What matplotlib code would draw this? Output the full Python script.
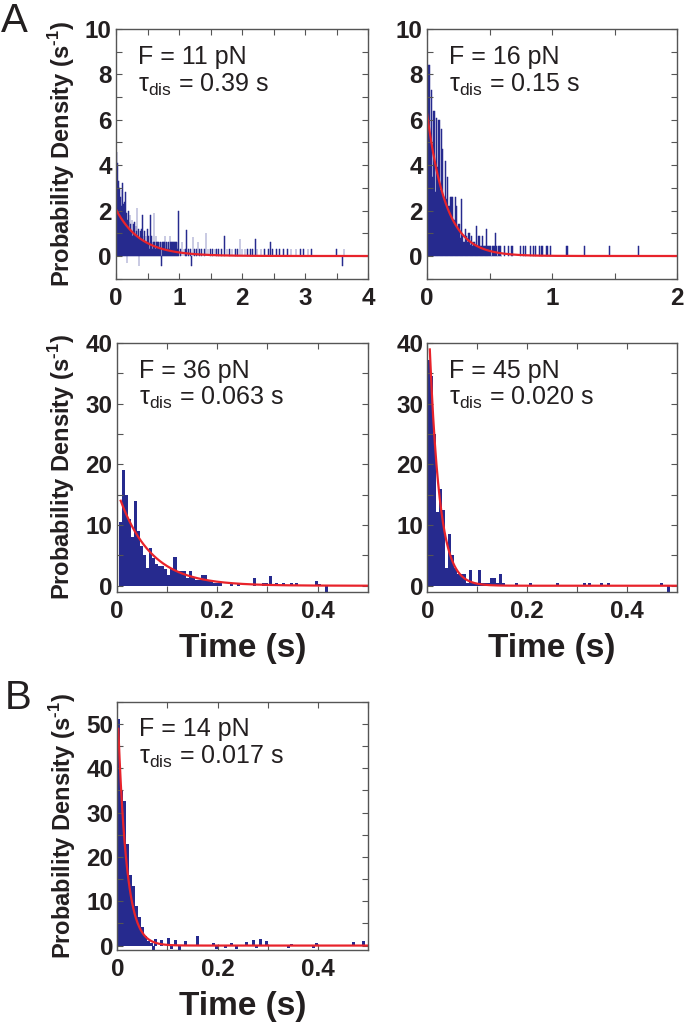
import numpy as np
import matplotlib
matplotlib.use("Agg")
import matplotlib.pyplot as plt
from matplotlib.ticker import MultipleLocator, FixedLocator, FixedFormatter

plt.rcParams['font.family'] = ['Liberation Sans', 'DejaVu Sans']
plt.rcParams['mathtext.fontset'] = 'custom'
plt.rcParams['mathtext.rm'] = 'Liberation Sans'

# ---------------- data ----------------
forces = ["11", "16", "36", "45", "14"]
tau_labels = ["0.39", "0.15", "0.063", "0.020", "0.017"]
tau_vals = [0.39, 0.15, 0.063, 0.020, 0.017]
fit_amp = [2.05, 6.3, 15.9, 50.0, 55.0]
fit_start = [0.0, 0.0, 0.008, 0.005, 0.002]

# panel A1 (F = 11 pN): bin width 0.01 s, contiguous bins from t = 0
p1_bw = 0.01
p1_t0 = 0.0
p1_dense = [3.5, 4.6, 4.1, 3.3, 2.7, 3.0, 2.2, 2.6, 2.2, 2.9,
            3.2, 2.3, 1.8, 2.4, 1.5, 2.8, 1.9, -0.3, 1.6, 2.0,
            1.5, 1.2, 1.8, 1.4, 1.1, 1.6, 0.9, 1.4, 1.2, 1.5,
            0.9, 1.3, 1.1, 2.1, 0.9, 1.2, -0.45, 0.8, 1.1, 0.6,
            1.2, 0.9, 1.8, 0.6, 0.9, 1.1, 0.6, 0.9, 0.6, 1.2,
            0.6, 0.9, 0.6, 0.3, 1.8, 0.6, 0.9, 0.3, 0.6, 0.6,
            1.9, 0.6, 0.3, 0.9, 0.6, 0.6, 0.3, 0.6, 0.6, 0.3,
            0.6, 0.6, -0.45, 0.6, 0.3, 0.6, 0.6, 0.9, 0.3, 0.6,
            0.6, 0.3, 0.6, 0.6, 0.3, 0.9, 0.6, 0.3, 0.6, 0.6,
            0.3, 0.6, 0.6, 0.3, 0.6, 0.3, 0.6, 0.3, 0.6, 2.0]
p1_sparse_t = [1.02, 1.05, 1.08, 1.10, 1.12, 1.15, 1.18, 1.20, 1.22, 1.25,
               1.28, 1.30, 1.33, 1.36, 1.40, 1.43, 1.46, 1.50, 1.53, 1.57,
               1.60, 1.63, 1.67, 1.72, 1.76, 1.80, 1.84, 1.90, 1.93, 1.97,
               2.00, 2.05, 2.09, 2.13, 2.17, 2.21, 2.24, 2.30, 2.36, 2.42,
               2.45, 2.48, 2.55, 2.60, 2.66, 2.72, 2.78, 2.86, 2.93, 2.98,
               3.05, 3.10, 3.50, 3.60, 3.62]
p1_sparse_h = [0.3, 0.6, 0.3, 0.3, 1.15, 0.3, 0.3, -0.45, 0.85, 0.3,
               0.3, 0.6, 0.3, 0.3, 0.3, 1.0, 0.3, 0.3, 0.3, 0.3,
               0.3, 0.3, 0.3, 0.9, 0.3, 0.3, 0.3, 0.3, 0.3, 0.75,
               0.3, 0.3, 0.3, 0.3, 0.3, 0.75, 0.3, 0.3, 0.3, 0.3,
               0.6, 0.3, 0.3, 0.3, 0.3, 0.3, 0.3, 0.3, 0.3, 0.3,
               0.3, 0.3, 0.3, -0.45, 0.3]

# panel A2 (F = 16 pN)
p2_bw = 0.01
p2_t0 = 0.0
p2_dense = [3.0, 8.4, 5.0, 7.3, 3.5, 6.4, 2.8, 6.1, 3.9, 6.0,
            2.9, 5.6, 4.7, 2.6, 4.2, 2.5, 3.5, 2.2, 2.6, 2.6,
            2.6, 1.6, 2.6, 2.2, 1.2, 1.4, 0.8, 2.5, 0.9, 0.6,
            1.2, 0.9, 0.6, 1.0, 0.5, 0.9, 0.45, 0.6, 0.45, 1.3,
            0.45, 0.9, 0.45, 0.45, 0.9, 0.45, 0.45, 1.2, 0.45, 0.45,
            0.45, 0.0, 0.45, 0.45, 1.0, 0.45, 0.0, 0.45, 0.45, 0.0]
p2_sparse_t = [0.62, 0.65, 0.68, 0.75, 0.77, 0.79, 0.83, 0.85, 0.87, 0.90,
               0.92, 0.96, 0.99, 1.12, 1.26, 1.46, 1.69]
p2_sparse_h = [0.45] * 17

# panel A3 (F = 36 pN): bin width 0.006 s
p3_bw = 0.006
p3_t0 = 0.005
p3_dense = [10.5, 19.0, 15.0, 11.0, 8.0, 14.0, 9.0, 6.5, 5.0, 3.0,
            6.2, 4.5, 3.5, 3.3, 3.3, 2.8, 1.8, 3.0, 4.8, 2.5,
            2.5, 2.5, 1.3, 2.5, 1.2, 1.0, 1.0, 1.8, 1.8, 1.0,
            0.8, 0.5, 0.5, 0.5]
p3_sparse_t = [0.229, 0.242, 0.275, 0.292, 0.298, 0.306, 0.318, 0.332, 0.348,
               0.358, 0.398, 0.404, 0.418]
p3_sparse_h = [0.5, 0.5, 1.2, 0.5, 0.5, 1.6, 0.5, 0.5, 0.5,
               0.5, 0.8, 0.3, -1.0]

# panel A4 (F = 45 pN)
p4_bw = 0.006
p4_t0 = 0.0
p4_dense = [37.2, 34.5, 25.0, 12.2, 16.0, 12.5, 2.9, 8.6, 5.0, 2.9,
            2.0, 2.0, 2.0, 0.5, 2.6, 0.5, 0.5, 2.6, 0.5, 0.5,
            0.5, 1.2, 1.2, 0.5, 2.0, 0.5]
p4_sparse_t = [0.179, 0.206, 0.260, 0.315, 0.325, 0.349, 0.362, 0.469, 0.483]
p4_sparse_h = [0.5, 0.5, 0.5, 0.5, 0.5, 0.5, 0.5, 0.5, -1.0]

# panel B (F = 14 pN)
pB_bw = 0.006
pB_t0 = 0.0
pB_dense = [51.0, 35.0, 32.5, 23.0, 16.0, 13.5, 9.0, 6.5, 4.3, 2.1,
            1.0, 0.6]
pB_sparse_t = [0.072, 0.076, 0.089, 0.102, 0.109, 0.117, 0.125, 0.137, 0.159,
               0.192, 0.198, 0.215, 0.228, 0.238, 0.258, 0.272, 0.278, 0.285,
               0.298, 0.341, 0.348, 0.391, 0.398, 0.471, 0.491]
pB_sparse_h = [-0.9, 1.5, 1.3, 1.6, -0.7, 1.3, -1.0, 1.1, 2.2,
               0.5, -0.7, -0.5, 0.5, -0.7, 0.9, 1.3, -0.5, 1.5,
               1.1, -0.5, 0.4, -0.6, 0.5, 0.75, 1.1]

# axis settings
xlims = [(0, 4), (0, 2), (0, 0.5), (0, 0.5), (0, 0.5)]
ylims = [(-1, 10), (-1, 10), (-1, 40), (-1, 40), (-1, 55)]
xmajor = [[0, 1, 2, 3, 4], [0, 1, 2], [0, 0.2, 0.4], [0, 0.2, 0.4], [0, 0.2, 0.4]]
xmajor_labels = [["0", "1", "2", "3", "4"], ["0", "1", "2"],
                 ["0", "0.2", "0.4"], ["0", "0.2", "0.4"], ["0", "0.2", "0.4"]]
xminor = [0.5, 0.5, 0.1, 0.1, 0.1]
ymajor = [[0, 2, 4, 6, 8, 10], [0, 2, 4, 6, 8, 10], [0, 10, 20, 30, 40],
          [0, 10, 20, 30, 40], [0, 10, 20, 30, 40, 50]]
yminor = [1, 1, 5, 5, 5]

panels = [
    (p1_bw, p1_t0, p1_dense, p1_sparse_t, p1_sparse_h),
    (p2_bw, p2_t0, p2_dense, p2_sparse_t, p2_sparse_h),
    (p3_bw, p3_t0, p3_dense, p3_sparse_t, p3_sparse_h),
    (p4_bw, p4_t0, p4_dense, p4_sparse_t, p4_sparse_h),
    (pB_bw, pB_t0, pB_dense, pB_sparse_t, pB_sparse_h),
]

# ---------------- layout ----------------
W, H = 687, 1024
fig = plt.figure(figsize=(W / 100, H / 100), dpi=100)

def rect(l, t, r, b):
    return [l / W, 1 - b / H, (r - l) / W, (b - t) / H]

rects = [rect(116, 29, 368, 278.7), rect(427, 29, 677, 278.7),
         rect(116.7, 343, 368, 591.8), rect(427.3, 343, 677, 591.8),
         rect(117.3, 701.7, 368, 950)]

NAVY = '#262a8e'
RED = '#e8232b'
FRAME = '#555555'
TXT = '#231f20'
ylab = 'Probability Density (s$^{\\mathregular{\u20101}}$)'

for i, (bw, t0, dense, st, sh) in enumerate(panels):
    ax = fig.add_axes(rects[i])
    lefts = t0 + bw * np.arange(len(dense))
    thin = i < 2
    ax.bar(lefts, dense, width=bw, align='edge', color=NAVY,
           edgecolor=NAVY, linewidth=0.35 if thin else 0)
    ax.bar(st, sh, width=bw, align='center', color=NAVY,
           edgecolor=NAVY, linewidth=0.35 if thin else 0)
    tt = np.linspace(fit_start[i], xlims[i][1], 600)
    ax.plot(tt, fit_amp[i] * np.exp(-tt / tau_vals[i]), color=RED, lw=1.6)
    ax.set_xlim(*xlims[i])
    ax.set_ylim(*ylims[i])
    ax.xaxis.set_major_locator(FixedLocator(xmajor[i]))
    ax.xaxis.set_major_formatter(FixedFormatter(xmajor_labels[i]))
    ax.xaxis.set_minor_locator(MultipleLocator(xminor[i]))
    ax.yaxis.set_major_locator(FixedLocator(ymajor[i]))
    ax.yaxis.set_minor_locator(MultipleLocator(yminor[i]))
    ax.tick_params(which='both', direction='in', top=True, right=True,
                   length=4, width=0.8, color=FRAME)
    ax.tick_params(axis='x', which='major', pad=6, labelsize=17.5, labelcolor=TXT)
    ax.tick_params(axis='y', which='major', pad=3, labelsize=17.5, labelcolor=TXT)
    for lab in ax.get_xticklabels() + ax.get_yticklabels():
        lab.set_fontweight('bold')
    for s in ax.spines.values():
        s.set_color(FRAME)
        s.set_linewidth(1.0)
    if i in (0, 2, 4):
        ax.set_ylabel(ylab, fontsize=17, fontweight='bold', color=TXT,
                      labelpad=6)
    if i >= 2:
        ax.set_xlabel('Time (s)', fontsize=24, fontweight='bold', color=TXT,
                      labelpad=7)
    ax.text(0.088, 0.86, 'F = %s pN' % forces[i], transform=ax.transAxes,
            fontsize=18, color=TXT, va='baseline', ha='left')
    ax.text(0.088, 0.75, r'$\mathregular{\tau_{dis}}$ = %s s' % tau_labels[i],
            transform=ax.transAxes, fontsize=18, color=TXT,
            va='baseline', ha='left')

fig.text(1 / W, 1 - 2 / H, 'A', fontsize=29, va='top', ha='left', color=TXT)
fig.text(5 / W, 1 - 679 / H, 'B', fontsize=29, va='top', ha='left', color=TXT)

fig.savefig('out.png', dpi=100, facecolor='white')
